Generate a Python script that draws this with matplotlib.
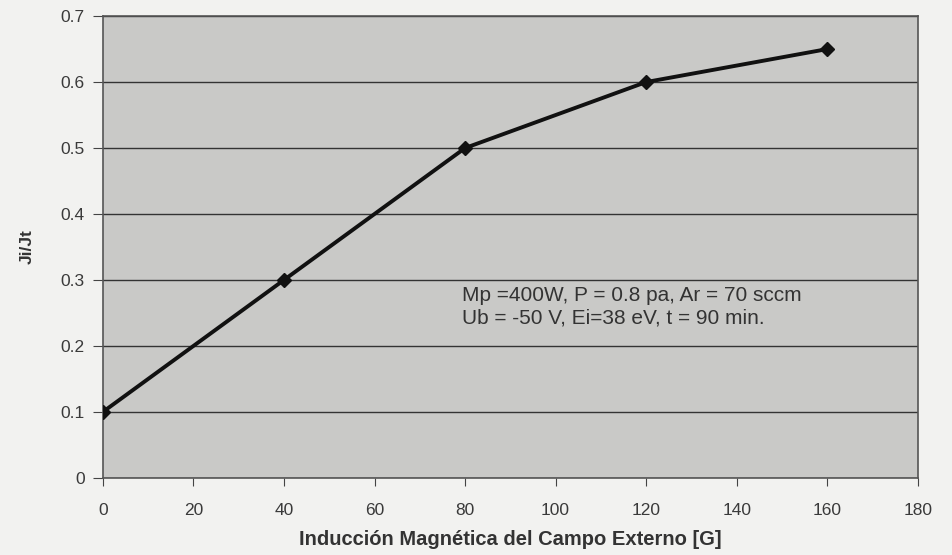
import matplotlib
matplotlib.use("Agg")
import matplotlib.pyplot as plt

# campo externo [G] vs Ji/Jt
induccion = [0, 40, 80, 120, 160]
ji_jt = [0.1, 0.3, 0.5, 0.6, 0.65]
x_ticks = [0, 20, 40, 60, 80, 100, 120, 140, 160, 180]
y_ticks = [0, 0.1, 0.2, 0.3, 0.4, 0.5, 0.6, 0.7]

plt.rcParams['font.family'] = ['Liberation Sans', 'DejaVu Sans']

fig = plt.figure(figsize=(9.53, 5.55), dpi=100)
fig.patch.set_facecolor('#f2f2f0')
ax = fig.add_axes([0.108, 0.139, 0.855, 0.832])
ax.set_facecolor('#c9c9c7')

ax.plot(induccion, ji_jt, color='#111111', linewidth=2.8, marker='D',
        markersize=7, zorder=3)

ax.set_xlim(0, 180)
ax.set_ylim(0, 0.7)
ax.set_xticks(x_ticks)
ax.set_yticks(y_ticks)
ax.set_yticklabels([f"{v:g}" for v in y_ticks])
ax.grid(axis='y', color='#333333', linewidth=1.0)
ax.set_axisbelow(True)
for s in ax.spines.values():
    s.set_color('#555555')
    s.set_linewidth(1.2)
ax.tick_params(axis='both', colors='#444444', labelsize=12.5, length=6,
               labelcolor='#3a3a3a')
ax.tick_params(axis='x', pad=12)
ax.tick_params(axis='y', pad=6, length=7)

ax.set_xlabel('Inducción Magnética del Campo Externo [G]', fontsize=14.5,
              fontweight='bold', color='#333333', labelpad=9)
ax.set_ylabel('Ji/Jt', fontsize=12.5, fontweight='bold', color='#333333',
              labelpad=19)

ax.text(79.3, 0.259, 'Mp =400W, P = 0.8 pa, Ar = 70 sccm\nUb = -50 V, Ei=38 eV, t = 90 min.',
        fontsize=15, color='#333333', va='center', linespacing=1.25)

fig.savefig('out.png', dpi=100, facecolor=fig.get_facecolor())
